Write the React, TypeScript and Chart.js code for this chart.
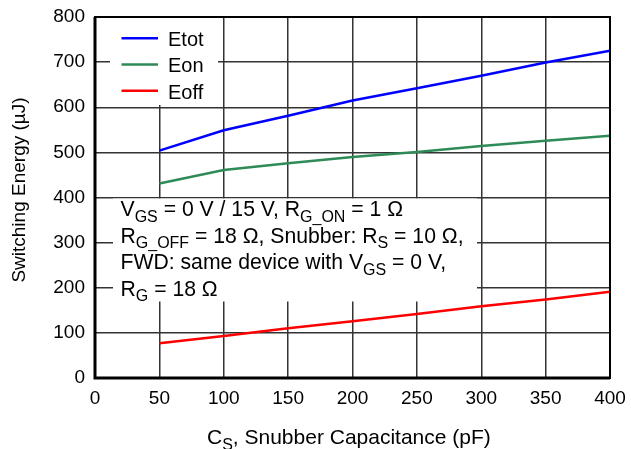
import React, { useEffect, useRef } from 'react';
import { Chart, registerables } from 'chart.js';

Chart.register(...registerables);

// values
const capacitance = [50, 100, 150, 200, 250, 300, 350, 400];
const etot = [504, 549, 581, 615, 642, 670, 699, 725];
const eon = [431, 461, 476, 490, 501, 514, 526, 537];
const eoff = [77, 93, 110, 126, 142, 159, 174, 191];

const seriesNames = ['Etot', 'Eon', 'Eoff'];
const seriesColors = ['#0000ff', '#2e8b57', '#ff0000'];

const xTicks = [0, 50, 100, 150, 200, 250, 300, 350, 400];
const yTicks = [0, 100, 200, 300, 400, 500, 600, 700, 800];

// text segments: [text, isSubscript]
type Seg = [string, boolean];
const noteLines: Seg[][] = [
  [['V', false], ['GS', true], [' = 0 V / 15 V, R', false], ['G_ON', true], [' = 1 \u03a9', false]],
  [['R', false], ['G_OFF', true], [' = 18 \u03a9, Snubber: R', false], ['S', true], [' = 10 \u03a9,', false]],
  [['FWD: same device with V', false], ['GS', true], [' = 0 V,', false]],
  [['R', false], ['G', true], [' = 18 \u03a9', false]],
];
const xTitle: Seg[] = [['C', false], ['S', true], [', Snubber Capacitance (pF)', false]];
const yTitle = 'Switching Energy (\u00b5J)';

const FONT = '"Liberation Sans", Arial, Helvetica, sans-serif';

function drawSegs(ctx: CanvasRenderingContext2D, segs: Seg[], x: number, y: number, size: number, subSize: number) {
  let cx = x;
  segs.forEach(([t, sub]) => {
    ctx.font = `${sub ? subSize : size}px ${FONT}`;
    ctx.fillText(t, cx, sub ? y + size * 0.27 : y);
    cx += ctx.measureText(t).width;
  });
  return cx;
}

const overlay = {
  id: 'overlay',
  beforeDatasetsDraw(chart: Chart) {
    const ctx = chart.ctx;
    ctx.save();
    ctx.fillStyle = '#ffffff';
    ctx.fillRect(110, 18, 108, 87);
    ctx.fillRect(113, 198.5, 364, 103);
    ctx.restore();
  },
  afterDatasetsDraw(chart: Chart) {
    const ctx = chart.ctx;
    const a = chart.chartArea;
    ctx.save();
    ctx.fillStyle = '#000';
    ctx.textBaseline = 'alphabetic';
    ctx.textAlign = 'left';

    // legend
    seriesNames.forEach((n, i) => {
      const cy = 38.3 + i * 26.2;
      ctx.strokeStyle = seriesColors[i];
      ctx.lineWidth = 2.5;
      ctx.beginPath();
      ctx.moveTo(121.5, cy);
      ctx.lineTo(158, cy);
      ctx.stroke();
      ctx.font = `20px ${FONT}`;
      ctx.fillText(n, 168, 45.7 + i * 26.7);
    });

    // conditions note
    noteLines.forEach((line, i) => drawSegs(ctx, line, 120.5, 216 + i * 26.5, 21.2, 16));

    // frame
    ctx.strokeStyle = '#000';
    ctx.lineWidth = 2;
    ctx.strokeRect(a.left, a.top, a.right - a.left, a.bottom - a.top);
    ctx.lineWidth = 3;
    ctx.beginPath();
    ctx.moveTo(a.left, a.top);
    ctx.lineTo(a.left, a.bottom);
    ctx.lineTo(a.right, a.bottom);
    ctx.stroke();

    // axis titles
    drawSegs(ctx, xTitle, 207, 444, 21, 16);
    ctx.translate(25, 190);
    ctx.rotate(-Math.PI / 2);
    ctx.textAlign = 'center';
    ctx.font = `19px ${FONT}`;
    ctx.fillText(yTitle, 0, 0);
    ctx.restore();
  },
};

export default function App() {
  const canvasRef = useRef<HTMLCanvasElement>(null);

  useEffect(() => {
    if (!canvasRef.current) return;
    const series = [etot, eon, eoff];
    const chart = new Chart(canvasRef.current, {
      type: 'line',
      data: {
        datasets: series.map((vals, i) => ({
          label: seriesNames[i],
          data: vals.map((v, j) => ({ x: capacitance[j], y: v })),
          borderColor: seriesColors[i],
          backgroundColor: seriesColors[i],
          borderWidth: 2.5,
          pointRadius: 0,
          tension: 0,
        })),
      },
      options: {
        responsive: false,
        animation: false,
        layout: { padding: { left: 0, top: 17, right: 21, bottom: 0 } },
        plugins: { legend: { display: false }, tooltip: { enabled: false } },
        scales: {
          x: {
            type: 'linear',
            min: 0,
            max: 400,
            afterBuildTicks: (s: any) => { s.ticks = xTicks.map((v) => ({ value: v })); },
            afterFit: (s: any) => { s.height = 71; s.paddingLeft = 0; s.paddingRight = 0; },
            grid: { color: '#333', lineWidth: 1.5, drawTicks: false },
            border: { display: false },
            ticks: { color: '#000', font: { family: FONT, size: 19 }, padding: 9, maxRotation: 0 },
          },
          y: {
            min: 0,
            max: 800,
            afterBuildTicks: (s: any) => { s.ticks = yTicks.map((v) => ({ value: v })); },
            afterFit: (s: any) => { s.width = 95; s.paddingTop = 0; s.paddingBottom = 0; },
            grid: { color: '#333', lineWidth: 1.5, drawTicks: false },
            border: { display: false },
            ticks: { color: '#000', font: { family: FONT, size: 19 }, padding: 10 },
          },
        },
      },
      plugins: [overlay],
    });
    return () => chart.destroy();
  }, []);

  return (
    <div style={{ position: 'absolute', left: 0, top: 0, width: 631, height: 449, background: '#fff' }}>
      <canvas ref={canvasRef} width={631} height={449} style={{ display: 'block' }} />
    </div>
  );
}
